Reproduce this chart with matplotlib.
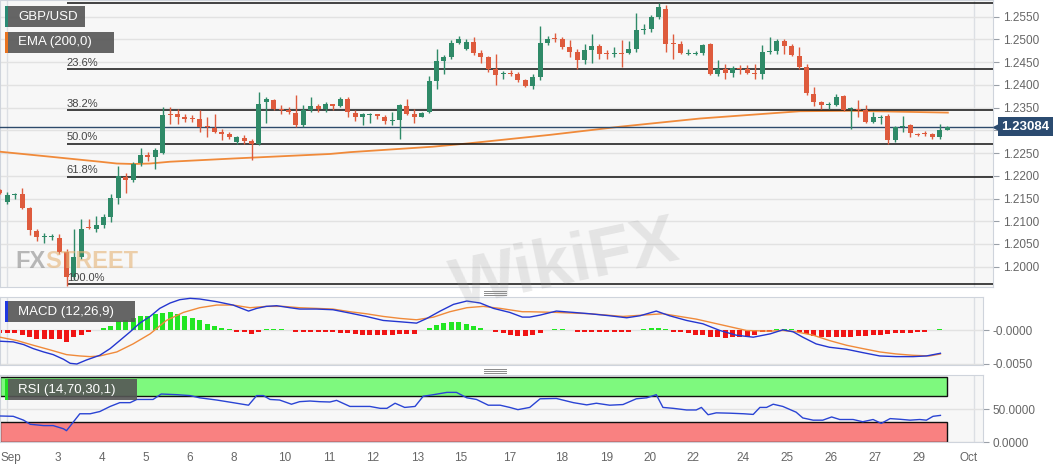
import numpy as np
import matplotlib.pyplot as plt
from matplotlib.patches import Rectangle
from matplotlib.lines import Line2D
from matplotlib.ticker import FormatStrFormatter

plt.rcParams['font.family'] = ['Liberation Sans', 'DejaVu Sans']

# ---------------- data (GBP/USD 4h) ----------------
opens = [1.2168, 1.2143, 1.2157, 1.2160, 1.2129, 1.2078, 1.2065, 1.2065, 1.2064, 1.2033,
         1.1978, 1.2022, 1.2087, 1.2084, 1.2092, 1.2109, 1.2152, 1.2198, 1.2190, 1.2228,
         1.2246, 1.2241, 1.2251, 1.2337, 1.2335, 1.2330, 1.2326, 1.2325, 1.2309, 1.2306,
         1.2297, 1.2292, 1.2274, 1.2284, 1.2277, 1.2270, 1.2363, 1.2367, 1.2348, 1.2345,
         1.2339, 1.2312, 1.2345, 1.2353, 1.2348, 1.2357, 1.2353, 1.2368, 1.2339, 1.2330,
         1.2333, 1.2335, 1.2330, 1.2321, 1.2323, 1.2353, 1.2337, 1.2330, 1.2341, 1.2409,
         1.2452, 1.2462, 1.2493, 1.2479, 1.2495, 1.2471, 1.2461, 1.2436, 1.2424, 1.2427,
         1.2425, 1.2411, 1.2397, 1.2418, 1.2493, 1.2502, 1.2500, 1.2484, 1.2473, 1.2455,
         1.2477, 1.2485, 1.2471, 1.2468, 1.2471, 1.2470, 1.2478, 1.2521, 1.2522, 1.2550,
         1.2568, 1.2491, 1.2489, 1.2469, 1.2469, 1.2471, 1.2490, 1.2424, 1.2436, 1.2427,
         1.2436, 1.2435, 1.2427, 1.2424, 1.2473, 1.2475, 1.2497, 1.2485, 1.2463, 1.2439,
         1.2381, 1.2363, 1.2356, 1.2356, 1.2375, 1.2346, 1.2347, 1.2345, 1.2319, 1.2328,
         1.2331, 1.2279, 1.2308, 1.2312, 1.2293, 1.2293, 1.2293, 1.2286, 1.2301]
highs = [1.2172, 1.2165, 1.2163, 1.2174, 1.2132, 1.2082, 1.2075, 1.2072, 1.2073, 1.2040,
         1.2084, 1.2104, 1.2106, 1.2112, 1.2115, 1.2159, 1.2221, 1.2207, 1.2230, 1.2261,
         1.2253, 1.2261, 1.2352, 1.2351, 1.2346, 1.2337, 1.2334, 1.2345, 1.2330, 1.2337,
         1.2304, 1.2297, 1.2288, 1.2290, 1.2280, 1.2385, 1.2374, 1.2370, 1.2356, 1.2351,
         1.2378, 1.2356, 1.2374, 1.2358, 1.2363, 1.2359, 1.2373, 1.2373, 1.2345, 1.2339,
         1.2339, 1.2337, 1.2334, 1.2341, 1.2357, 1.2368, 1.2348, 1.2341, 1.2419, 1.2478,
         1.2466, 1.2499, 1.2507, 1.2502, 1.2505, 1.2477, 1.2463, 1.2469, 1.2431, 1.2433,
         1.2429, 1.2414, 1.2424, 1.2529, 1.2507, 1.2515, 1.2506, 1.2499, 1.2478, 1.2491,
         1.2513, 1.2491, 1.2477, 1.2484, 1.2499, 1.2497, 1.2559, 1.2534, 1.2554, 1.2581,
         1.2576, 1.2512, 1.2497, 1.2480, 1.2475, 1.2491, 1.2493, 1.2455, 1.2447, 1.2441,
         1.2444, 1.2444, 1.2446, 1.2488, 1.2505, 1.2502, 1.2500, 1.2490, 1.2484, 1.2447,
         1.2395, 1.2365, 1.2363, 1.2381, 1.2377, 1.2352, 1.2367, 1.2356, 1.2341, 1.2334,
         1.2337, 1.2310, 1.2331, 1.2315, 1.2295, 1.2299, 1.2295, 1.2315, 1.2310]
lows = [1.2160, 1.2139, 1.2150, 1.2126, 1.2070, 1.2056, 1.2053, 1.2059, 1.2029, 1.1957,
        1.1971, 1.2018, 1.2082, 1.2076, 1.2086, 1.2098, 1.2137, 1.2163, 1.2186, 1.2222,
        1.2233, 1.2214, 1.2249, 1.2314, 1.2314, 1.2319, 1.2319, 1.2297, 1.2285, 1.2295,
        1.2279, 1.2282, 1.2271, 1.2271, 1.2235, 1.2268, 1.2317, 1.2345, 1.2337, 1.2337,
        1.2308, 1.2307, 1.2341, 1.2341, 1.2341, 1.2345, 1.2351, 1.2330, 1.2321, 1.2312,
        1.2317, 1.2325, 1.2315, 1.2312, 1.2282, 1.2334, 1.2317, 1.2329, 1.2339, 1.2392,
        1.2425, 1.2456, 1.2490, 1.2477, 1.2466, 1.2449, 1.2429, 1.2400, 1.2414, 1.2419,
        1.2407, 1.2395, 1.2392, 1.2411, 1.2488, 1.2495, 1.2480, 1.2462, 1.2436, 1.2447,
        1.2449, 1.2458, 1.2458, 1.2461, 1.2439, 1.2468, 1.2473, 1.2513, 1.2517, 1.2546,
        1.2473, 1.2458, 1.2468, 1.2466, 1.2466, 1.2466, 1.2422, 1.2419, 1.2412, 1.2418,
        1.2424, 1.2424, 1.2414, 1.2414, 1.2468, 1.2468, 1.2469, 1.2463, 1.2436, 1.2378,
        1.2353, 1.2348, 1.2346, 1.2353, 1.2343, 1.2302, 1.2330, 1.2317, 1.2317, 1.2315,
        1.2271, 1.2275, 1.2297, 1.2286, 1.2287, 1.2287, 1.2282, 1.2282, 1.2300]
closes = [1.2163, 1.2157, 1.2159, 1.2129, 1.2080, 1.2066, 1.2067, 1.2067, 1.2033, 1.1978,
          1.2022, 1.2084, 1.2085, 1.2092, 1.2109, 1.2152, 1.2199, 1.2190, 1.2227, 1.2246,
          1.2241, 1.2256, 1.2334, 1.2334, 1.2329, 1.2326, 1.2324, 1.2308, 1.2307, 1.2297,
          1.2291, 1.2285, 1.2285, 1.2277, 1.2270, 1.2359, 1.2368, 1.2348, 1.2345, 1.2341,
          1.2312, 1.2345, 1.2353, 1.2348, 1.2357, 1.2353, 1.2368, 1.2341, 1.2329, 1.2335,
          1.2335, 1.2331, 1.2321, 1.2323, 1.2356, 1.2337, 1.2329, 1.2339, 1.2409, 1.2452,
          1.2462, 1.2493, 1.2502, 1.2495, 1.2471, 1.2461, 1.2436, 1.2422, 1.2427, 1.2424,
          1.2411, 1.2397, 1.2418, 1.2493, 1.2502, 1.2500, 1.2484, 1.2473, 1.2455, 1.2477,
          1.2485, 1.2469, 1.2468, 1.2471, 1.2469, 1.2478, 1.2521, 1.2524, 1.2550, 1.2571,
          1.2490, 1.2489, 1.2471, 1.2471, 1.2471, 1.2488, 1.2424, 1.2436, 1.2427, 1.2438,
          1.2434, 1.2427, 1.2424, 1.2473, 1.2475, 1.2497, 1.2485, 1.2466, 1.2440, 1.2383,
          1.2363, 1.2356, 1.2358, 1.2374, 1.2345, 1.2348, 1.2345, 1.2319, 1.2329, 1.2330,
          1.2279, 1.2307, 1.2310, 1.2295, 1.2290, 1.2292, 1.2286, 1.2301, 1.23084]

# EMA(200) sampled along the bar index
ema_x = [0, 6.8, 13.5, 15.8, 18.0, 20.3, 23.0, 31.5, 44.6, 47.3, 58.5, 63.1, 74.3,
         83.8, 94.6, 108.1, 114.9, 128.1]
ema_vals = [1.2253, 1.2242, 1.2231, 1.2227, 1.2226, 1.2227, 1.2231, 1.2238, 1.2248,
            1.2252, 1.2264, 1.2271, 1.2290, 1.2308, 1.2326, 1.2342, 1.2343, 1.2339]

# Fibonacci retracement of the 1.1961 -> 1.2581 swing
fib_ratios = [0.0, 0.236, 0.382, 0.5, 0.618, 1.0]
fib_labels = ["0.0%", "23.6%", "38.2%", "50.0%", "61.8%", "100.0%"]
swing_high, swing_low, swing_low_bar = 1.2581, 1.1961, 9
last_price = 1.23084

# MACD (12,26,9)
macd_x = [1.0, 2.8, 4.2, 5.5, 6.9, 8.2, 9.6, 10.5, 11.4, 12.7, 14.5, 15.9, 17.2, 18.6,
          19.9, 21.3, 22.6, 24.0, 25.3, 26.7, 28.0, 30.3, 32.5, 34.6, 35.7, 37.0, 38.4,
          40.2, 41.5, 43.8, 46.0, 48.3, 50.5, 52.8, 55.1, 57.3, 58.7, 60.5, 62.3, 64.1,
          65.9, 67.7, 69.9, 71.6, 72.6, 74.0, 76.2, 78.5, 80.7, 83.4, 85.7, 87.5, 89.7,
          91.5, 93.8, 96.0, 98.3, 100.5, 102.8, 105.1, 106.8, 108.2, 109.5, 111.3, 113.1,
          115.4, 117.6, 119.9, 122.1, 124.4, 126.2, 128.1]
macd_vals = [-0.0016, -0.0017, -0.0021, -0.0027, -0.0032, -0.0036, -0.0043, -0.0049,
             -0.0050, -0.0044, -0.0037, -0.0027, -0.0015, -0.0002, 0.0011, 0.0021, 0.0033,
             0.0041, 0.0046, 0.0048, 0.0047, 0.0043, 0.0038, 0.0029, 0.0033, 0.0036, 0.0037,
             0.0034, 0.0032, 0.0032, 0.0031, 0.0026, 0.0021, 0.0015, 0.0013, 0.0011, 0.0018,
             0.0029, 0.0039, 0.0044, 0.0041, 0.0033, 0.0027, 0.0020, 0.0020, 0.0023, 0.0029,
             0.0027, 0.0025, 0.0022, 0.0019, 0.0022, 0.0029, 0.0022, 0.0015, 0.0010, 0.0000,
             -0.0007, -0.0010, -0.0005, 0.0001, -0.0002, -0.0010, -0.0020, -0.0025, -0.0028,
             -0.0033, -0.0038, -0.0039, -0.0039, -0.0038, -0.0034]
sig_x = [1.0, 3.3, 5.5, 7.8, 10.0, 11.8, 13.2, 14.5, 16.8, 19.0, 21.3, 23.5, 25.8, 28.0,
         30.3, 32.5, 34.8, 37.0, 39.3, 41.5, 43.8, 46.0, 48.3, 50.5, 52.8, 55.1, 57.3,
         59.6, 61.8, 64.1, 66.3, 68.6, 71.6, 72.6, 76.2, 80.7, 85.2, 90.6, 95.1, 98.7,
         101.9, 105.1, 106.8, 108.6, 110.9, 113.1, 115.4, 117.6, 119.9, 122.1, 124.4,
         126.6, 128.1]
sig_vals = [-0.0010, -0.0015, -0.0022, -0.0029, -0.0036, -0.0038, -0.0039, -0.0038,
            -0.0032, -0.0020, -0.0005, 0.0015, 0.0027, 0.0034, 0.0038, 0.0038, 0.0034,
            0.0036, 0.0036, 0.0034, 0.0033, 0.0032, 0.0028, 0.0025, 0.0021, 0.0018, 0.0016,
            0.0020, 0.0028, 0.0034, 0.0036, 0.0033, 0.0028, 0.0028, 0.0027, 0.0025, 0.0021,
            0.0025, 0.0017, 0.0008, 0.0000, -0.0001, 0.0000, -0.0002, -0.0007, -0.0015,
            -0.0022, -0.0027, -0.0032, -0.0035, -0.0037, -0.0038, -0.0035]
hist_vals = [-0.0003, -0.0004, -0.0004, -0.0004, -0.0006, -0.0010, -0.0012, -0.0013, -0.0013,
             -0.0013, -0.0017, -0.0010, -0.0007, -0.0002, 0.0, 0.0003, 0.0007, 0.0014, 0.0016,
             0.0019, 0.0021, 0.0022, 0.0024, 0.0026, 0.0027, 0.0025, 0.0022, 0.0019, 0.0015,
             0.0010, 0.0006, 0.0003, 0.0001, -0.0001, -0.0002, -0.0005, -0.0001, 0.0001,
             0.0001, 0.0001, 0.0, -0.0002, -0.0002, -0.0002, -0.0002, -0.0002, -0.0002,
             -0.0003, -0.0004, -0.0005, -0.0006, -0.0006, -0.0006, -0.0007, -0.0006, -0.0005,
             -0.0005, -0.0005, 0.0, 0.0004, 0.0008, 0.0011, 0.0013, 0.0013, 0.0010, 0.0006,
             0.0003, 0.0, -0.0002, -0.0004, -0.0006, -0.0008, -0.0008, -0.0007, -0.0004, 0.0,
             0.0001, 0.0001, 0.0, -0.0002, -0.0002, -0.0002, -0.0002, -0.0002, -0.0002,
             -0.0002, -0.0002, 0.0, 0.0001, 0.0003, 0.0004, 0.0001, -0.0001, -0.0001, -0.0004,
             -0.0006, -0.0007, -0.0009, -0.0010, -0.0011, -0.0010, -0.0009, -0.0009, -0.0007,
             -0.0002, -0.0001, 0.0001, 0.0001, 0.0001, -0.0002, -0.0005, -0.0008, -0.0010,
             -0.0010, -0.0010, -0.0009, -0.0009, -0.0008, -0.0008, -0.0007, -0.0006, -0.0005,
             -0.0004, -0.0003, -0.0003, -0.0002, -0.0001, 0.0, 0.0001]

# RSI (14)
rsi_x = [1.0, 2.8, 4.2, 5.1, 6.9, 8.2, 9.6, 10.0, 11.8, 13.2, 14.5, 15.9, 17.2, 18.6, 19.5,
         21.7, 22.8, 24.9, 26.7, 28.0, 30.3, 32.5, 34.6, 35.7, 36.6, 37.5, 38.8, 40.4, 41.5,
         42.9, 44.2, 45.6, 46.5, 48.3, 49.6, 51.0, 52.4, 53.3, 54.4, 55.7, 57.1, 58.2, 59.6,
         61.4, 62.7, 64.1, 65.4, 67.0, 68.6, 69.9, 71.0, 72.6, 74.0, 76.2, 78.5, 80.3, 81.6,
         83.4, 85.2, 87.0, 88.4, 89.7, 90.6, 92.0, 93.8, 95.1, 95.8, 96.7, 97.8, 99.6, 101.5,
         102.8, 103.7, 104.6, 105.5, 106.8, 108.6, 109.5, 110.9, 112.2, 113.4, 114.5, 116.3,
         117.6, 119.0, 120.1, 121.3, 122.6, 124.0, 125.3, 126.2, 127.1, 128.1]
rsi_vals = [39.8, 39.3, 33.4, 27.1, 25.1, 25.1, 20.2, 17.3, 43.2, 43.2, 46.6, 54.4, 60.2,
            60.2, 65.1, 65.1, 73.4, 72.4, 71.0, 67.6, 64.2, 60.2, 56.3, 71.0, 71.0, 65.1,
            64.2, 57.8, 61.7, 62.7, 61.7, 61.2, 63.7, 54.4, 54.4, 54.4, 51.5, 51.5, 59.3,
            52.9, 54.4, 70.0, 72.4, 75.9, 75.9, 67.6, 65.1, 56.3, 56.3, 52.9, 49.5, 52.9,
            66.1, 66.6, 60.2, 56.8, 59.3, 56.3, 57.3, 66.1, 67.6, 72.4, 52.9, 51.5, 49.0,
            49.0, 52.9, 41.7, 44.6, 44.1, 43.2, 42.2, 52.9, 52.9, 57.8, 54.4, 45.6, 36.8,
            33.4, 33.4, 38.3, 34.4, 34.4, 31.0, 34.4, 28.5, 35.8, 34.8, 33.4, 34.4, 33.4,
            39.3, 40.7]

# date axis (positions in bars)
date_labels = ["Sep", "3", "4", "5", "6", "8", "10", "11", "12", "13", "15", "17", "18",
               "19", "20", "22", "24", "25", "26", "27", "29", "Oct"]
date_pos = [1.45, 7.8, 13.8, 19.7, 25.7, 31.6, 38.5, 44.5, 50.4, 56.4, 62.3, 68.9, 75.9,
            82.0, 87.8, 93.7, 100.4, 106.4, 112.3, 118.3, 124.2, 130.9]
month_pos = [0.95, 131.6]
price_ticks = [1.2000, 1.2050, 1.2100, 1.2150, 1.2200, 1.2250, 1.2300, 1.2350, 1.2400,
               1.2450, 1.2500, 1.2550]

# ---------------- styling / layout ----------------
W, H = 1063, 469
BAR_PX = 7.4
GREEN, RED = '#2f8a68', '#de5b3d'
BG, GRID, SPINE = '#f7f7f7', '#e2e2e2', '#cfd4dc'
TICK_C = '#666666'
WM_FONT = ['Liberation Sans Narrow', 'Liberation Sans']


def frac(x0, y0, x1, y1):
    return [x0 / W, 1 - y1 / H, (x1 - x0) / W, (y1 - y0) / H]


fig = plt.figure(figsize=(W / 100, H / 100), dpi=100)
fig.patch.set_facecolor('white')
ax = fig.add_axes(frac(0, 0, 993, 287))
ax_m = fig.add_axes(frac(0, 297, 983, 365))
ax_r = fig.add_axes(frac(0, 375, 983, 442))

x_left = 0.1 / BAR_PX
for a, wpx in ((ax, 993), (ax_m, 983), (ax_r, 983)):
    a.set_facecolor(BG)
    a.set_xlim(x_left, x_left + wpx / BAR_PX)
    for s in a.spines.values():
        s.set_color(SPINE)
    a.yaxis.tick_right()
    a.tick_params(axis='y', length=4, width=0.8, color='#9aa0a8', pad=3,
                  labelsize=8.5, labelcolor=TICK_C)
    a.tick_params(axis='x', length=0, labelbottom=False)
    a.yaxis.grid(True, color=GRID, lw=1)
    a.set_axisbelow(True)
    for m in month_pos:
        a.axvline(m, color='#dcdfe4', lw=1, zorder=0.5)

# ---- price panel ----
ax.set_ylim(1.19554, 1.25867)
ax.set_yticks(price_ticks)
# the last-price badge sits on top of the 1.2300 label, so leave that one blank
ax.set_yticklabels(['' if abs(t - last_price) < 0.002 else f'{t:.4f}' for t in price_ticks])

o, h, l, c = (np.array(v) for v in (opens, highs, lows, closes))
bars = np.arange(len(c))
col = np.where(c >= o, GREEN, RED)
ax.plot(ema_x, ema_vals, color='#f08a3a', lw=1.3, zorder=2.6)
ax.vlines(bars, l, h, colors=col, lw=1, zorder=3)
ax.bar(bars, np.maximum(np.abs(c - o), 0.00022), bottom=np.minimum(o, c),
       width=0.68, color=col, lw=0, zorder=4)

x_right = ax.get_xlim()[1]
for r, lab in zip(fib_ratios, fib_labels):
    lvl = swing_high - r * (swing_high - swing_low)
    ax.hlines(lvl, swing_low_bar, x_right, colors='#111111', lw=1.1, zorder=2.7)
    ax.text(swing_low_bar + 0.05, lvl + 0.0003, lab, fontsize=8, color='#444444',
            va='bottom', ha='left', zorder=5, clip_on=True)

ax.axhline(last_price, color='#2d4a6b', lw=1, zorder=2.8)
ax.annotate(f'{last_price:.5f}', xy=(1, last_price), xycoords=('axes fraction', 'data'),
            xytext=(6, 0), textcoords='offset points', ha='left', va='center',
            fontsize=9.5, fontweight='bold', color='white', zorder=10,
            bbox=dict(boxstyle='square,pad=0.28', fc='#2b4b70', ec='none'),
            annotation_clip=False)
ax.plot([1 + 4 / 993], [last_price], marker='<', ms=6, color='#2b4b70',
        transform=ax.get_yaxis_transform(), clip_on=False, zorder=10)

# ---- MACD panel ----
ax_m.set_ylim(-0.00515, 0.0050)
ax_m.set_yticks([0.0, -0.005])
ax_m.set_yticklabels(['-0.0000', '-0.0050'])
hist = np.array(hist_vals)
shown = np.where(hist == 0, 0, np.sign(hist) * np.maximum(np.abs(hist), 0.00025))
ax_m.bar(bars - 1, shown, width=0.7, color=np.where(hist > 0, '#22e622', '#f01414'),
         lw=0, zorder=2)
ax_m.plot(np.array(sig_x) - 1, sig_vals, color='#f08a3a', lw=1, zorder=3)
ax_m.plot(np.array(macd_x) - 1, macd_vals, color='#2436d0', lw=1, zorder=4)

# ---- RSI panel ----
ax_r.set_ylim(0, 102.5)
ax_r.set_yticks([50, 0])
ax_r.set_yticklabels(['50.0000', '0.0000'])
box_w = len(c) - 1 - x_left
ax_r.add_patch(Rectangle((x_left, 70), box_w, 30, fc='#7ef97e', ec='#111111', lw=1, zorder=1))
ax_r.add_patch(Rectangle((x_left, 0), box_w, 30, fc='#f98181', ec='#111111', lw=1, zorder=1))
ax_r.plot(np.array(rsi_x) - 1, rsi_vals, color='#2a44d4', lw=1, zorder=3)
ax_r.set_xticks(date_pos)
ax_r.set_xticklabels(date_labels)
ax_r.tick_params(axis='x', labelbottom=True, length=0, pad=7, labelsize=8.5,
                 labelcolor=TICK_C)


# ---- legend tags ----
def tag(x0, y0, x1, y1, text, stripe):
    fig.add_artist(Rectangle((x0 / W, 1 - y1 / H), (x1 - x0) / W, (y1 - y0) / H,
                             transform=fig.transFigure, fc='#555555', alpha=0.9,
                             ec='none', zorder=20))
    fig.add_artist(Rectangle((x0 / W, 1 - y1 / H), 3 / W, (y1 - y0) / H,
                             transform=fig.transFigure, fc=stripe, ec='none', zorder=21))
    fig.text((x0 + 13) / W, 1 - (y0 + y1) / 2 / H, text, color='white', fontsize=9.5,
             va='center', ha='left', zorder=22)


tag(5, 6, 85, 27, 'GBP/USD', '#2a8a74')
tag(5, 32, 114, 53, 'EMA (200,0)', '#e8731f')
tag(5, 301, 135, 322, 'MACD (12,26,9)', '#1f38e0')
tag(5, 379, 137, 400, 'RSI (14,70,30,1)', '#22dd22')

# panel splitter handles
for yy in (290.5, 292.5, 294.5, 368.5, 370.5, 372.5):
    fig.add_artist(Line2D([484 / W, 506 / W], [1 - yy / H] * 2, color='#8a8a8a', lw=0.7,
                          transform=fig.transFigure))

# watermarks
t_fx = fig.text(15 / W, 1 - 268 / H, 'FX', fontsize=17, fontweight='bold', family=WM_FONT,
                color='#8c8c8c', alpha=0.6, zorder=15)
ax.annotate('STREET', xy=(1, 0), xycoords=t_fx, ha='left', va='bottom', fontsize=17,
            fontweight='bold', family=WM_FONT, color='#e6b476', alpha=0.6, zorder=15,
            annotation_clip=False)
fig.text(565 / W, 1 - 265 / H, 'WikiFX', rotation=12, fontsize=50, fontweight='bold',
         color='#9a9a9a', alpha=0.2, ha='center', va='center', zorder=15)

fig.savefig('out.png', dpi=100, facecolor='white')
